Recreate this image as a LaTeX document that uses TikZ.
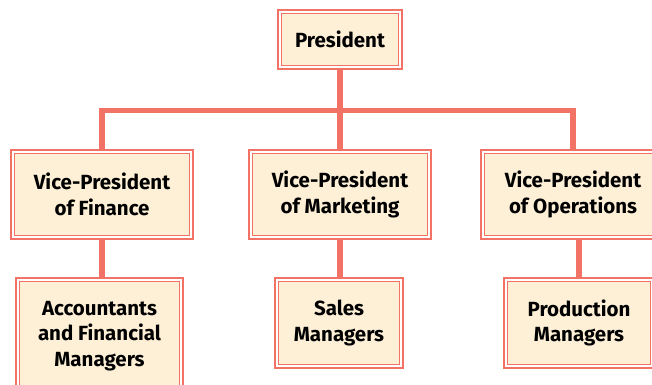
\documentclass[tikz,border=0pt]{standalone}
\usepackage{fontspec}
\setsansfont{Fira Sans}
\usetikzlibrary{backgrounds}
\definecolor{coral}{RGB}{242,115,102}
\definecolor{cream}{RGB}{254,240,214}
\tikzset{post/.style={draw=coral,line width=1.4pt,double=white,double distance=1.6pt,fill=cream,
  preaction={draw=coral,line width=6.4pt},align=center,inner sep=0pt,outer sep=0pt,
  font=\sffamily\bfseries\fontsize{20.5}{25.5}\selectfont},
  link/.style={draw=coral,line width=5.5pt}}

\begin{document}
\begin{tikzpicture}[x=1pt,y=-1pt]
\useasboundingbox (0,0) rectangle (652,384);
\node[post,minimum width=120pt,minimum height=55pt] (pres) at (340,39.5) {President};
\node[post,minimum width=178pt,minimum height=85pt] (fin) at (102,194.5) {Vice-President\\of Finance};
\node[post,minimum width=178pt,minimum height=85pt] (mkt) at (340,194.5) {Vice-President\\of Marketing};
\node[post,minimum width=180pt,minimum height=85pt] (ops) at (573,194.5) {Vice-President\\of Operations};
\node[post,minimum width=163pt,minimum height=112pt] (acc) at (99.5,336) {Accountants\\and Financial\\Managers};
\node[post,minimum width=124pt,minimum height=86pt] (sales) at (339,323) {Sales\\Managers};
\node[post,minimum width=146pt,minimum height=86pt] (prod) at (579,323) {Production\\Managers};
\coordinate (bar) at (340,110.5);
\begin{scope}[on background layer]
\draw[link] (fin.north) |- (bar) -| (ops.north);
\draw[link] (pres.south) -- (pres.south |- bar);
\draw[link] (mkt.north) -- (mkt.north |- bar);
\draw[link] (fin.south) -- (fin.south |- acc.north);
\draw[link] (mkt.south) -- (mkt.south |- sales.north);
\draw[link] (prod.north) -- (prod.north |- ops.south);
\end{scope}
\end{tikzpicture}
\end{document}
